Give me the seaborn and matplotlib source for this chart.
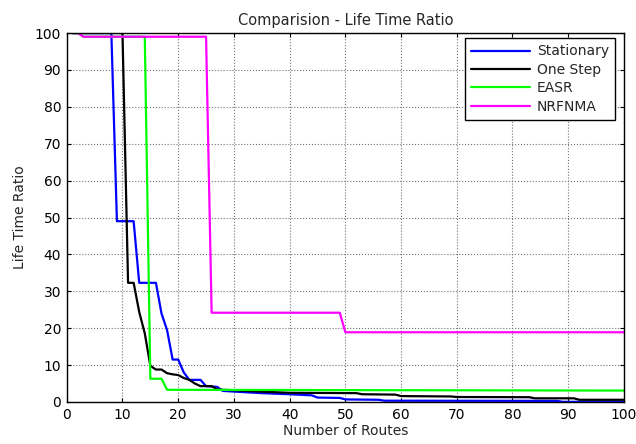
import matplotlib
matplotlib.use("Agg")
import matplotlib.pyplot as plt
import seaborn as sns
import pandas as pd

# Polyline vertices
stat_x = [1, 8, 9, 12, 13, 16, 17, 18, 19, 20, 21, 22, 24, 25, 27, 28, 35, 40, 44, 45, 49, 50, 56, 57, 88, 89, 100]
stat_y = [100, 100, 49, 49, 32.3, 32.3, 24, 19.5, 11.5, 11.5, 8, 6, 6, 4.3, 4.1, 3.0, 2.4, 2.1, 1.8, 1.2, 1.1, 0.7, 0.6, 0.35, 0.3, 0.05, 0.05]

one_x = [1, 10, 11, 12, 13, 14, 15, 16, 17, 18, 19, 20, 21, 22, 23, 24, 26, 27, 28, 30, 35, 40, 52, 53, 59, 60, 69, 70, 83, 84, 91, 92, 100]
one_y = [100, 100, 32.3, 32.3, 24.4, 18.6, 9.8, 8.8, 8.8, 7.8, 7.5, 7.3, 6.5, 6.0, 5.0, 4.3, 4.3, 3.4, 3.3, 3.2, 2.8, 2.5, 2.4, 2.1, 2.0, 1.6, 1.5, 1.35, 1.3, 1.0, 1.0, 0.6, 0.6]

easr_x = [1, 2, 3, 14, 15, 17, 18, 100]
easr_y = [100, 100, 99, 99, 6.3, 6.3, 3.3, 3.1]

nrf_x = [1, 2, 3, 25, 26, 49, 50, 100]
nrf_y = [100, 100, 99, 99, 24.2, 24.2, 18.9, 18.9]

series_names = ["Stationary", "One Step", "EASR", "NRFNMA"]
series_colors = ["#0000ff", "#000000", "#00ff00", "#ff00ff"]
x_ticks = list(range(0, 101, 10))
y_ticks = list(range(0, 101, 10))

frames = []
for name, xs, ys in zip(series_names,
                        [stat_x, one_x, easr_x, nrf_x],
                        [stat_y, one_y, easr_y, nrf_y]):
    frames.append(pd.DataFrame({"Routes": xs, "Ratio": ys, "Method": name}))
df = pd.concat(frames, ignore_index=True)

sns.set_style("white")
plt.rcParams["font.family"] = ["DejaVu Sans"]
plt.rcParams["font.size"] = 10

fig = plt.figure(figsize=(6.36, 4.44), dpi=100)
ax = fig.add_axes([0.105, 0.0946, 0.876, 0.831])

sns.lineplot(data=df, x="Routes", y="Ratio", hue="Method", hue_order=series_names,
             palette=dict(zip(series_names, series_colors)), sort=False,
             estimator=None, linewidth=1.6, ax=ax)

ax.set_xlim(0, 100)
ax.set_ylim(0, 100)
ax.set_xticks(x_ticks)
ax.set_yticks(y_ticks)
ax.grid(True, linestyle=":", color="0.45", linewidth=0.8)
ax.tick_params(direction="in", length=3, width=0.8, top=True, right=True,
               bottom=True, left=True, labelsize=10, colors="black")
ax.tick_params(axis="x", pad=4.5)
ax.tick_params(axis="y", pad=4)
for s in ax.spines.values():
    s.set_color("black")
    s.set_linewidth(1.0)

ax.set_title("Comparision - Life Time Ratio", fontsize=10.5, pad=6)
ax.set_xlabel("Number of Routes", fontsize=10, labelpad=1)
ax.set_ylabel("Life Time Ratio", fontsize=10, labelpad=6)

leg = ax.legend(loc="upper right", bbox_to_anchor=(0.984, 0.986), borderaxespad=0,
                fontsize=10, frameon=True, fancybox=False, handlelength=4.2,
                borderpad=0.45, labelspacing=0.32, handletextpad=0.5)
leg.get_frame().set_edgecolor("black")
leg.get_frame().set_linewidth(1.0)
leg.get_frame().set_alpha(1)

fig.savefig("out.png", dpi=100)
